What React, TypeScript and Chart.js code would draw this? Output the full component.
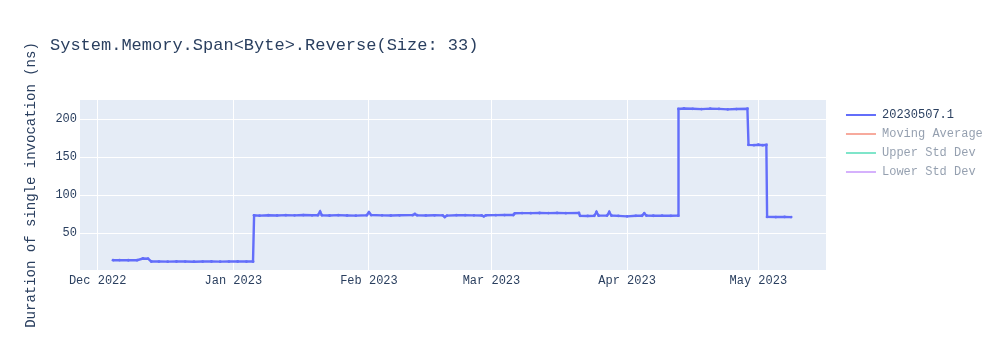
import React, { useEffect, useRef } from 'react';
import { Chart, registerables } from 'chart.js';

Chart.register(...registerables);

const chartTitle = 'System.Memory.Span<Byte>.Reverse(Size: 33)';
const yAxisTitle = 'Duration of single invocation (ns)';

const seriesNames = ['20230507.1', 'Moving Average', 'Upper Std Dev', 'Lower Std Dev'];
const seriesColors = ['#636efa', '#EF553B', '#00cc96', '#ab63fa'];
const seriesHidden = [false, true, true, true];

const runDates = [
  '2022-12-04T12:00', '2022-12-06T00:00', '2022-12-08T00:00', '2022-12-10T00:00', '2022-12-11T08:00',
  '2022-12-12T12:00', '2022-12-13T06:00', '2022-12-15T00:00', '2022-12-17T00:00', '2022-12-19T00:00',
  '2022-12-21T00:00', '2022-12-23T00:00', '2022-12-25T00:00', '2022-12-27T00:00', '2022-12-29T00:00',
  '2022-12-31T00:00', '2023-01-02T00:00', '2023-01-04T00:00', '2023-01-05T12:00', '2023-01-05T18:00',
  '2023-01-07T00:00', '2023-01-09T00:00', '2023-01-11T00:00', '2023-01-13T00:00', '2023-01-15T00:00',
  '2023-01-17T00:00', '2023-01-19T00:00', '2023-01-20T08:00', '2023-01-20T20:00', '2023-01-21T06:00',
  '2023-01-23T00:00', '2023-01-25T00:00', '2023-01-27T00:00', '2023-01-29T00:00', '2023-01-31T12:00',
  '2023-02-01T00:00', '2023-02-01T12:00', '2023-02-04T00:00', '2023-02-06T00:00', '2023-02-08T00:00',
  '2023-02-11T00:00', '2023-02-11T12:00', '2023-02-12T00:00', '2023-02-14T00:00', '2023-02-16T00:00',
  '2023-02-17T20:00', '2023-02-18T08:00', '2023-02-18T20:00', '2023-02-21T00:00', '2023-02-23T00:00',
  '2023-02-25T00:00', '2023-02-26T18:00', '2023-02-27T06:00', '2023-02-27T18:00', '2023-03-02T00:00',
  '2023-03-04T00:00', '2023-03-06T00:00', '2023-03-06T08:00', '2023-03-08T00:00', '2023-03-10T00:00',
  '2023-03-12T00:00', '2023-03-14T00:00', '2023-03-16T00:00', '2023-03-18T00:00', '2023-03-21T00:00',
  '2023-03-21T06:00', '2023-03-23T00:00', '2023-03-24T12:00', '2023-03-25T00:00', '2023-03-25T12:00',
  '2023-03-27T10:00', '2023-03-27T22:00', '2023-03-28T10:00', '2023-03-30T00:00', '2023-04-01T00:00',
  '2023-04-03T00:00', '2023-04-04T10:00', '2023-04-04T22:00', '2023-04-05T10:00', '2023-04-07T00:00',
  '2023-04-09T00:00', '2023-04-11T00:00', '2023-04-12T16:00', '2023-04-12T18:00', '2023-04-14T00:00',
  '2023-04-16T00:00', '2023-04-18T00:00', '2023-04-20T00:00', '2023-04-22T00:00', '2023-04-24T00:00',
  '2023-04-26T00:00', '2023-04-28T12:00', '2023-04-28T18:00', '2023-04-30T00:00', '2023-05-01T00:00',
  '2023-05-02T00:00', '2023-05-02T20:00', '2023-05-03T00:00', '2023-05-05T00:00', '2023-05-07T00:00',
  '2023-05-08T12:00',
];

const runValues = [
  14.6, 14.7, 14.5, 14.6, 16.8,
  16.6, 12.9, 12.8, 12.7, 12.9,
  12.8, 12.6, 12.8, 12.9, 12.7,
  12.8, 12.9, 12.8, 12.9, 73.6,
  73.2, 73.8, 73.5, 73.9, 73.6,
  74.0, 73.7, 73.8, 78.4, 73.8,
  73.4, 73.9, 73.5, 73.2, 73.8,
  77.6, 74.0, 73.6, 73.4, 73.7,
  73.9, 75.4, 73.8, 73.5, 73.7,
  73.6, 71.4, 73.3, 73.8, 73.9,
  73.6, 73.5, 72.3, 73.7, 73.9,
  74.0, 74.1, 76.3, 76.6, 76.5,
  76.7, 76.6, 76.8, 76.5, 76.7,
  73.0, 72.8, 73.1, 78.0, 73.2,
  73.3, 78.0, 73.4, 72.9, 72.3,
  73.0, 73.1, 76.3, 73.4, 73.1,
  73.3, 73.0, 73.2, 213.6, 214.2,
  213.8, 213.4, 214.0, 213.7, 213.1,
  213.5, 213.9, 166.4, 166.0, 166.6,
  165.9, 166.3, 71.6, 71.4, 71.5,
  71.3,
];

const xTickDates = [
  '2022-12-01T00:00', '2023-01-01T00:00', '2023-02-01T00:00',
  '2023-03-01T00:00', '2023-04-01T00:00', '2023-05-01T00:00',
];
const xTickLabels = ['Dec 2022', 'Jan 2023', 'Feb 2023', 'Mar 2023', 'Apr 2023', 'May 2023'];
const xRange = ['2022-11-26T23:00', '2023-05-16T11:00'];
const yTickValues = [50, 100, 150, 200];
const yRange = [1.7, 225.4];

const FONT = "'Liberation Mono', 'Courier New', monospace";
const TEXT = '#2a3f5f';

const toMs = (s: string) => Date.parse(s + ':00Z');

const fade = (hex: string, a: number) => {
  const n = parseInt(hex.slice(1), 16);
  return `rgba(${(n >> 16) & 255}, ${(n >> 8) & 255}, ${n & 255}, ${a})`;
};

const plotBgPlugin = {
  id: 'plotBg',
  beforeDraw(chart: any) {
    const { ctx, chartArea } = chart;
    ctx.save();
    ctx.fillStyle = '#E5ECF6';
    ctx.fillRect(chartArea.left, chartArea.top, chartArea.right - chartArea.left, chartArea.bottom - chartArea.top);
    ctx.restore();
  },
};

const titlePlugin = {
  id: 'plotTitle',
  afterDraw(chart: any) {
    const { ctx } = chart;
    ctx.save();
    ctx.font = `17px ${FONT}`;
    ctx.fillStyle = TEXT;
    ctx.textAlign = 'left';
    ctx.textBaseline = 'middle';
    ctx.fillText(chartTitle, 50, 45);
    ctx.restore();
  },
};

export default function App() {
  const canvasRef = useRef<HTMLCanvasElement | null>(null);

  useEffect(() => {
    if (!canvasRef.current) return;
    Chart.defaults.font.family = FONT;
    Chart.defaults.color = TEXT;

    const datasets = seriesNames.map((name, i) => ({
      label: name,
      data: i === 0 ? runDates.map((d, k) => ({ x: toMs(d), y: runValues[k] })) : [],
      borderColor: seriesColors[i],
      backgroundColor: seriesColors[i],
      borderWidth: 2.4,
      pointRadius: i === 0 ? 1.4 : 0,
      pointBorderWidth: 0,
      pointHoverRadius: 0,
      tension: 0,
      fill: false,
    }));

    const chart = new Chart(canvasRef.current, {
      type: 'line',
      data: { datasets },
      plugins: [plotBgPlugin, titlePlugin],
      options: {
        animation: false,
        responsive: false,
        maintainAspectRatio: false,
        layout: { padding: { top: 100, right: 7.2, bottom: 0, left: 0 } },
        scales: {
          x: {
            type: 'linear',
            min: toMs(xRange[0]),
            max: toMs(xRange[1]),
            afterBuildTicks: (scale: any) => {
              scale.ticks = xTickDates.map((d) => ({ value: toMs(d) }));
            },
            afterFit: (scale: any) => {
              scale.height = 80;
            },
            ticks: {
              autoSkip: false,
              maxRotation: 0,
              minRotation: 0,
              padding: 4,
              color: TEXT,
              font: { size: 12, family: FONT },
              callback: (_v: any, index: number) => xTickLabels[index],
            },
            grid: { color: '#ffffff', lineWidth: 1, drawTicks: false },
            border: { display: false },
          },
          y: {
            type: 'linear',
            position: 'left',
            min: yRange[0],
            max: yRange[1],
            afterBuildTicks: (scale: any) => {
              scale.ticks = yTickValues.map((v) => ({ value: v }));
            },
            afterFit: (scale: any) => {
              scale.width = 80;
            },
            ticks: {
              padding: 3,
              color: TEXT,
              font: { size: 12, family: FONT },
            },
            grid: { color: '#ffffff', lineWidth: 1, drawTicks: false },
            border: { display: false },
            title: {
              display: true,
              text: yAxisTitle,
              color: TEXT,
              font: { size: 14, family: FONT },
              padding: { top: 23, bottom: 0 },
            },
          },
          gap: {
            type: 'linear',
            position: 'right',
            display: true,
            afterFit: (scale: any) => {
              scale.width = 13;
            },
            ticks: { display: false },
            grid: { display: false, drawTicks: false },
            border: { display: false },
          },
        },
        plugins: {
          tooltip: { enabled: false },
          title: { display: false },
          legend: {
            display: true,
            position: 'right',
            align: 'start',
            fullSize: false,
            title: { display: true, text: '', padding: 0, font: { size: 2, lineHeight: 1 } },
            labels: {
              usePointStyle: true,
              pointStyleWidth: 30,
              padding: 7,
              font: { size: 12, family: FONT },
              generateLabels: (ch: any) =>
                ch.data.datasets.map((ds: any, i: number) => {
                  const hidden = seriesHidden[i];
                  const col = hidden ? fade(seriesColors[i], 0.5) : seriesColors[i];
                  return {
                    text: ds.label,
                    strokeStyle: col,
                    fillStyle: col,
                    lineWidth: 2,
                    pointStyle: 'line',
                    fontColor: hidden ? fade(TEXT, 0.5) : TEXT,
                    hidden: false,
                    datasetIndex: i,
                  };
                }),
            },
          },
        },
      },
    } as any);

    return () => chart.destroy();
  }, []);

  return (
    <div style={{ position: 'absolute', left: 0, top: 0, width: 1000, height: 350, background: '#fff' }}>
      <canvas ref={canvasRef} width={1000} height={350} style={{ width: 1000, height: 350, display: 'block' }} />
    </div>
  );
}
